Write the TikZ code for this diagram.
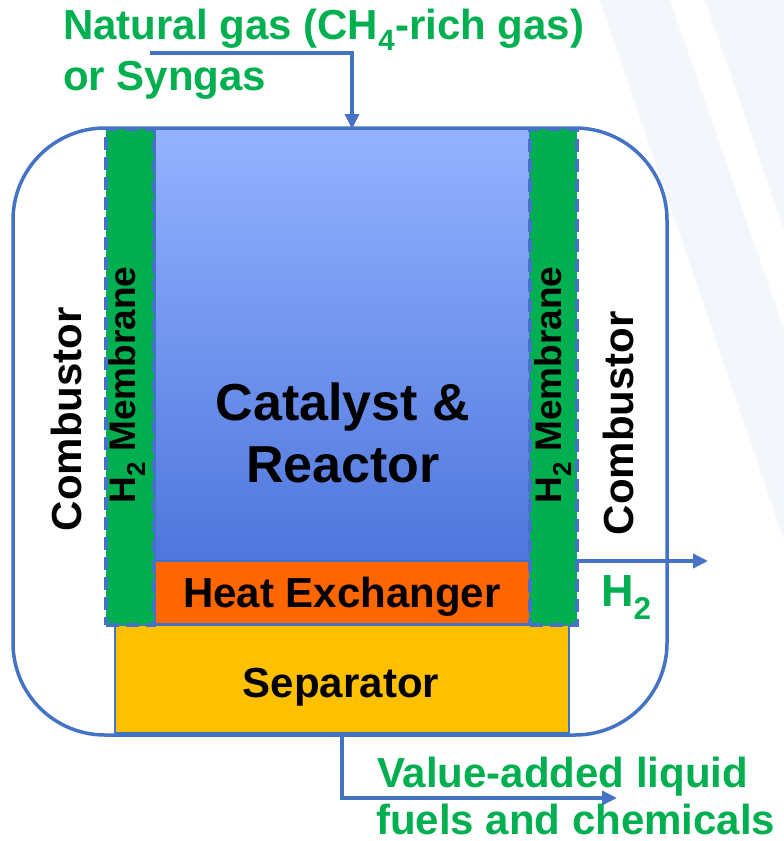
\documentclass[tikz,border=0pt]{standalone}
\usepackage{fontspec}
\setmainfont{Liberation Sans}
\usetikzlibrary{arrows.meta}
\definecolor{bblue}{HTML}{4472C4}
\definecolor{mgreen}{HTML}{00B050}
\definecolor{hxorange}{HTML}{FF6600}
\definecolor{sepyellow}{HTML}{FFC000}
\definecolor{rtop}{RGB}{148,178,255}
\definecolor{rbot}{RGB}{78,118,220}
\definecolor{stripe}{HTML}{F3F6FA}
\begin{document}
\begin{tikzpicture}[x=1pt,y=-1pt,
  box/.style={draw=bblue,line width=2pt,inner sep=0pt,outer sep=0pt},
  membox/.style={draw=bblue,fill=mgreen,line width=4pt,dash pattern=on 13pt off 7pt,inner sep=0pt,outer sep=0pt},
  arr/.style={draw=bblue,line width=3.5pt,-{Triangle[length=15pt,width=14pt]}},
  big/.style={font=\fontsize{42}{48}\selectfont\bfseries},
  cat/.style={font=\fontsize{52}{62}\selectfont\bfseries,align=center},
  memtxt/.style={font=\fontsize{37}{42}\selectfont\bfseries,rotate=90,inner sep=0pt},
  gtxt/.style={big,text=mgreen,inner sep=0pt,anchor=base west}]
\useasboundingbox (0,0) rectangle (784,841);
\fill[white] (0,0) rectangle (784,841);
\fill[stripe] (600,0) -- (670,0) -- (784,330) -- (784,540) -- cycle;
\fill[stripe] (705,0) -- (784,0) -- (784,230) -- cycle;
% combustor outline
\node[draw=bblue,line width=3.5pt,rounded corners=92pt,minimum width=654pt,minimum height=607pt,inner sep=0pt] (comb) at (340,431.5) {};
% reactor
\node[box,minimum width=375pt,minimum height=432pt,top color=rtop,bottom color=rbot] (reactor) at (342.5,345) {};
\node[box,fill=hxorange,minimum width=375pt,minimum height=63pt] (hx) at (342.5,592.5) {};
\node[box,fill=sepyellow,minimum width=454pt,minimum height=108pt] (sep) at (342,679) {};
\node[membox,minimum width=48pt,minimum height=496pt] (lmem) at (130,377) {};
\node[membox,minimum width=47pt,minimum height=496pt] (rmem) at (553.5,377) {};
% texts
\node[cat] (cattxt) at (343,433) {Catalyst \&\\Reactor};
\node[big,anchor=base] (hxtxt) at (342,607) {Heat Exchanger};
\node[big,anchor=base] (septxt) at (341,697) {Separator};
\node[big,rotate=90,inner sep=0pt] (lcomb) at (66,419) {Combustor};
\node[big,rotate=90,inner sep=0pt] (rcomb) at (618,423) {Combustor};
\node[memtxt] (lmemtxt) at (127,385) {H\textsubscript{2} Membrane};
\node[memtxt] (rmemtxt) at (553,385) {H\textsubscript{2} Membrane};
\node[gtxt] (feed1) at (63,39) {Natural gas (CH\textsubscript{4}-rich gas)};
\node[gtxt] (feed2) at (63,90) {or Syngas};
\node[gtxt,font=\fontsize{45}{50}\selectfont\bfseries] (h2txt) at (601,606) {H\textsubscript{2}};
\node[gtxt] (prod1) at (377,787) {Value-added liquid};
\node[gtxt] (prod2) at (376,834) {fuels and chemicals};
% arrows
\coordinate (feedstart) at (150,53);
\coordinate (feedx) at (352,53);
\draw[arr] (feedstart) -- (feedx) -- (feedx |- reactor.north);
\coordinate (h2end) at (708,561);
\draw[arr] (rmem.east |- hx.north) -- (h2end);
\coordinate (prodend) at (617,798);
\draw[arr] (sep.south) |- (prodend);
\end{tikzpicture}
\end{document}
